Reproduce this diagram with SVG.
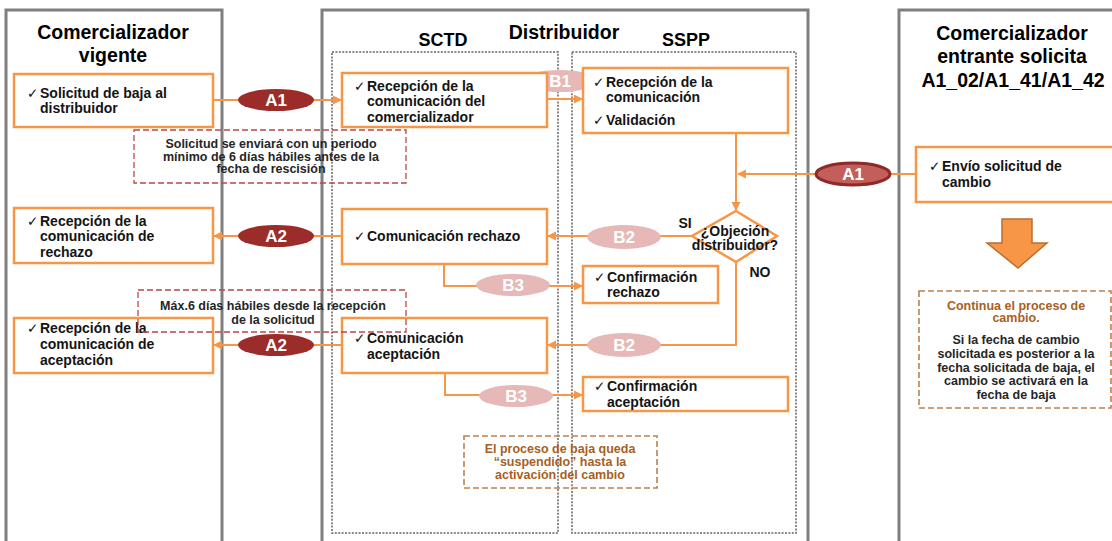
<svg xmlns="http://www.w3.org/2000/svg" width="1112" height="541" viewBox="0 0 1112 541">
<style>
.lane{fill:none;stroke:#7f7f7f;stroke-width:3}
.sub{fill:none;stroke:#8a8a8a;stroke-width:2;stroke-dasharray:2 1.4}
.box{fill:#fff;stroke:#f79646;stroke-width:2.5}
.t{font-family:"Liberation Sans",Arial,sans-serif;font-weight:bold;font-size:14px;fill:#141414}
.ck{font-family:"DejaVu Sans",sans-serif;font-weight:normal;font-size:13.5px}
.title{font-family:"Liberation Sans",Arial,sans-serif;font-weight:bold;font-size:19.5px;fill:#000;text-anchor:middle}
.sub-title{font-family:"Liberation Sans",Arial,sans-serif;font-weight:bold;font-size:18px;fill:#000;text-anchor:middle}
.note{font-family:"Liberation Sans",Arial,sans-serif;font-weight:bold;font-size:12.5px;fill:#262626;text-anchor:middle}
.noteb{font-family:"Liberation Sans",Arial,sans-serif;font-weight:bold;font-size:12.5px;fill:#a85f22;text-anchor:middle}
.nbox-r{fill:none;stroke:#b54a48;stroke-width:1.3;stroke-dasharray:6 3}
.nbox-b{fill:none;stroke:#b9834f;stroke-width:1.6;stroke-dasharray:6 3}
.conn{fill:none;stroke:#f79646;stroke-width:2}
.eA{fill:#9b2c2a}
.eB{fill:#e6b9b8}
.el{font-family:"Liberation Sans",Arial,sans-serif;font-weight:bold;font-size:17px;fill:#fff;text-anchor:middle}
</style>
<defs>
<marker id="ah" markerWidth="10" markerHeight="10" refX="8" refY="5" orient="auto" markerUnits="userSpaceOnUse">
<path d="M0,0.5 L9,5 L0,9.5 Z" fill="#f79646"/>
</marker>
</defs>
<rect width="1112" height="541" fill="#fff"/>

<g id="lanes">
<rect class="lane" x="6" y="10" width="216" height="560"/>
<rect class="lane" x="322" y="10" width="486" height="560"/>
<rect class="lane" x="899" y="10" width="260" height="560"/>
<rect class="sub" x="332" y="52" width="226" height="481"/>
<rect class="sub" x="572" y="52" width="224" height="481"/>
<text class="title" x="113" y="39">Comercializador</text>
<text class="title" x="113" y="62">vigente</text>
<text class="title" x="564" y="39">Distribuidor</text>
<text class="sub-title" x="443" y="46">SCTD</text>
<text class="sub-title" x="686" y="46">SSPP</text>
<text class="title" x="1012" y="40">Comercializador</text>
<text class="title" x="1012" y="63">entrante solicita</text>
<text class="title" x="1013" y="87">A1_02/A1_41/A1_42</text>
</g>

<g id="connectors">
<path class="conn" d="M213,100 H341" marker-end="url(#ah)"/>
<path class="conn" d="M547,99 H582" marker-end="url(#ah)"/>
<path class="conn" d="M736,133 V210" marker-end="url(#ah)"/>
<path class="conn" d="M916,174 H738" marker-end="url(#ah)"/>
<path class="conn" d="M692,236 H548" marker-end="url(#ah)"/>
<path class="conn" d="M444,264 V286 H582" marker-end="url(#ah)"/>
<path class="conn" d="M736,262 V345 H548" marker-end="url(#ah)"/>
<path class="conn" d="M342,236 H214" marker-end="url(#ah)"/>
<path class="conn" d="M342,345 H214" marker-end="url(#ah)"/>
<path class="conn" d="M445,373 V395 H582" marker-end="url(#ah)"/>
<g id="A1-left"><ellipse class="eA" cx="276" cy="100" rx="38" ry="11"/><text class="el" x="276" y="106">A1</text></g>
<g id="B1"><ellipse class="eB" cx="560" cy="81" rx="37" ry="11"/><text class="el" x="560" y="87">B1</text></g>
<g id="A1-right"><ellipse cx="853" cy="174" rx="37" ry="11" fill="#c45e5b" stroke="#8e2a27" stroke-width="3"/><text class="el" x="853" y="180">A1</text></g>
<g id="B2-top"><ellipse class="eB" cx="624" cy="237" rx="37" ry="12"/><text class="el" x="624" y="243">B2</text></g>
<g id="A2-top"><ellipse class="eA" cx="276" cy="236" rx="38" ry="11"/><text class="el" x="276" y="242">A2</text></g>
<g id="B3-top"><ellipse class="eB" cx="513" cy="285" rx="37" ry="11"/><text class="el" x="513" y="291">B3</text></g>
<g id="B2-bottom"><ellipse class="eB" cx="624" cy="345" rx="37" ry="12"/><text class="el" x="624" y="351">B2</text></g>
<g id="A2-bottom"><ellipse class="eA" cx="276" cy="345" rx="38" ry="11"/><text class="el" x="276" y="351">A2</text></g>
<g id="B3-bottom"><ellipse class="eB" cx="516" cy="396" rx="37" ry="11"/><text class="el" x="516" y="402">B3</text></g>
</g>

<g id="n-solicitud-baja">
<rect class="box" x="14" y="74" width="199" height="53"/>
<text class="t" x="27" y="98"><tspan class="ck">✓</tspan><tspan x="40">Solicitud de baja al</tspan><tspan x="40" y="113">distribuidor</tspan></text>
</g>

<g id="n-recepcion-comercializador">
<rect class="box" x="342" y="73" width="205" height="54"/>
<text class="t" x="354" y="91"><tspan class="ck">✓</tspan><tspan x="367">Recepción de la</tspan><tspan x="367" y="106">comunicación del</tspan><tspan x="367" y="122">comercializador</tspan></text>
</g>

<g id="n-recepcion-validacion">
<rect class="box" x="583" y="68" width="205" height="65"/>
<text class="t" x="593" y="87"><tspan class="ck">✓</tspan><tspan x="606">Recepción de la</tspan><tspan x="606" y="102">comunicación</tspan></text>
<text class="t" x="593" y="125"><tspan class="ck">✓</tspan><tspan x="606">Validación</tspan></text>
</g>

<g id="n-envio">
<rect class="box" x="916" y="147" width="220" height="55"/>
<text class="t" x="929" y="171"><tspan class="ck">✓</tspan><tspan x="942">Envío solicitud de</tspan><tspan x="942" y="187">cambio</tspan></text>
</g>

<g id="n-objecion">
<polygon points="736,211 777,236 736,262 692,236" fill="#fff" stroke="#f79646" stroke-width="2.5"/>
<text class="t" x="735" y="236" text-anchor="middle">¿Objeción</text>
<text class="t" x="735" y="250" text-anchor="middle">distribuidor?</text>
<text class="t" x="685" y="228" text-anchor="middle">SI</text>
<text class="t" x="760" y="277" text-anchor="middle">NO</text>
</g>

<g id="n-recepcion-rechazo">
<rect class="box" x="14" y="208" width="199" height="55"/>
<text class="t" x="27" y="226"><tspan class="ck">✓</tspan><tspan x="40">Recepción de la</tspan><tspan x="40" y="241">comunicación de</tspan><tspan x="40" y="257">rechazo</tspan></text>
</g>

<g id="n-comunicacion-rechazo">
<rect class="box" x="342" y="209" width="205" height="55"/>
<text class="t" x="354" y="241"><tspan class="ck">✓</tspan><tspan x="367">Comunicación rechazo</tspan></text>
</g>

<g id="n-confirmacion-rechazo">
<rect class="box" x="583" y="266" width="135" height="37"/>
<text class="t" x="594" y="282"><tspan class="ck">✓</tspan><tspan x="607">Confirmación</tspan><tspan x="607" y="297">rechazo</tspan></text>
</g>

<g id="n-recepcion-aceptacion">
<rect class="box" x="14" y="318" width="199" height="55"/>
<text class="t" x="27" y="333"><tspan class="ck">✓</tspan><tspan x="40">Recepción de la</tspan><tspan x="40" y="349">comunicación de</tspan><tspan x="40" y="365">aceptación</tspan></text>
</g>

<g id="n-comunicacion-aceptacion">
<rect class="box" x="342" y="318" width="205" height="55"/>
<text class="t" x="354" y="343"><tspan class="ck">✓</tspan><tspan x="367">Comunicación</tspan><tspan x="367" y="359">aceptación</tspan></text>
</g>

<g id="n-confirmacion-aceptacion">
<rect class="box" x="583" y="377" width="205" height="34"/>
<text class="t" x="594" y="391"><tspan class="ck">✓</tspan><tspan x="607">Confirmación</tspan><tspan x="607" y="407">aceptación</tspan></text>
</g>

<g id="n-arrow-down">
<polygon points="1002,219 1032,219 1032,243 1047,243 1018,268 987,243 1002,243" fill="#f79646" stroke="#b86f33" stroke-width="1.5"/>
</g>

<g id="note-solicitud">
<rect class="nbox-r" x="134" y="130" width="272" height="53"/>
<text class="note" x="271" y="147.5">Solicitud se enviará con un periodo</text>
<text class="note" x="271" y="160.5">mínimo de 6 días hábiles antes de la</text>
<text class="note" x="271" y="172.5">fecha de rescisión</text>
</g>

<g id="note-max">
<rect class="nbox-r" x="138" y="290" width="268" height="42"/>
<text class="note" x="273" y="309.5">Máx.6 días hábiles desde la recepción</text>
<text class="note" x="273" y="323.5">de la solicitud</text>
</g>

<g id="note-suspendido">
<rect class="nbox-b" x="464" y="436" width="193" height="52"/>
<text class="noteb" x="560" y="452.5">El proceso de baja queda</text>
<text class="noteb" x="560" y="465.5">“suspendido” hasta la</text>
<text class="noteb" x="560" y="478.5">activación del cambio</text>
</g>

<g id="note-continua">
<rect class="nbox-b" x="919" y="291" width="192" height="117"/>
<text class="noteb" x="1016" y="309.5">Continua el proceso de</text>
<text class="noteb" x="1016" y="322">cambio.</text>
<text class="note" x="1016" y="343.5">Si la fecha de cambio</text>
<text class="note" x="1016" y="357.5">solicitada es posterior a la</text>
<text class="note" x="1016" y="371.5">fecha solicitada de baja, el</text>
<text class="note" x="1016" y="385">cambio se activará en la</text>
<text class="note" x="1016" y="398.5">fecha de baja</text>
</g>
</svg>
